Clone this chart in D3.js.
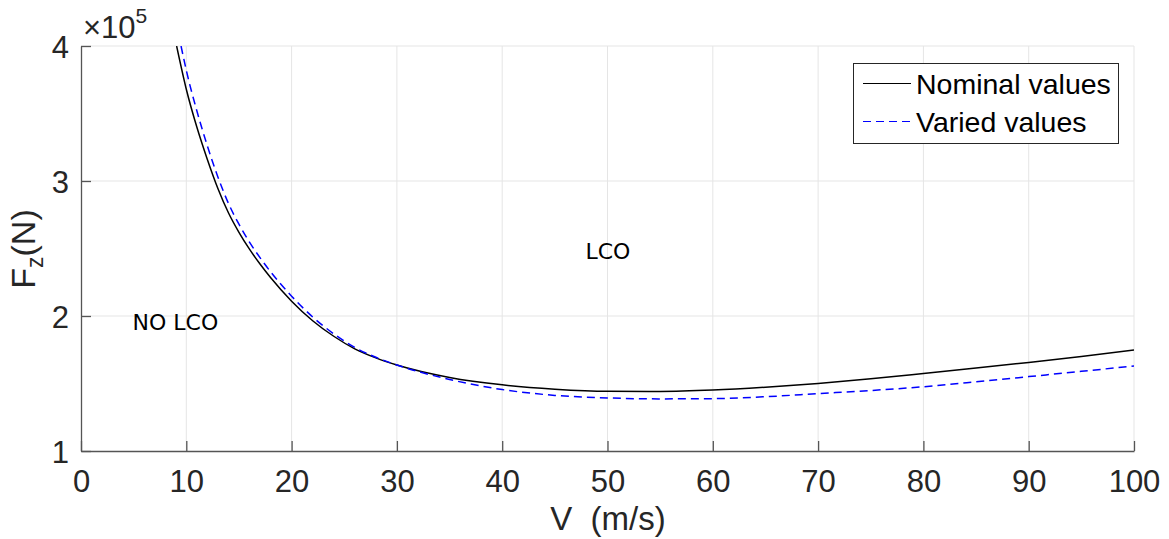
<!DOCTYPE html>
<html><head><meta charset="utf-8">
<script src="https://cdn.jsdelivr.net/npm/d3@7"></script>
<style>
body{margin:0;background:#fff;}
svg text{font-family:"Liberation Sans",Arial,sans-serif;}
</style></head>
<body><svg id="c" width="1169" height="539"></svg>
<script>
// Data (F in units of 1e5 N)
const xTicks = [0,10,20,30,40,50,60,70,80,90,100];
const yTicks = [1,2,3,4];
const nominalV = [9.08,10,11,12,13,14,15,16,17,18,20,22,24,26,28,30,35,40,45,50,55,60,65,70,75,80,85,90,95,100];
const nominalF = [4.0,3.68,3.40,3.16,2.945,2.765,2.62,2.495,2.385,2.285,2.11,1.965,1.85,1.757,1.69,1.637,1.545,1.49,1.458,1.442,1.441,1.451,1.472,1.50,1.535,1.574,1.614,1.656,1.70,1.748];
const variedV = [9.5,10,11,12,13,14,15,16,17,18,20,22,24,26,28,30,35,40,45,50,55,60,65,70,75,80,85,90,95,100];
const variedF = [4.0,3.82,3.52,3.26,3.03,2.835,2.68,2.547,2.432,2.328,2.147,1.993,1.868,1.767,1.694,1.637,1.53,1.455,1.412,1.393,1.386,1.388,1.402,1.425,1.448,1.476,1.512,1.551,1.59,1.63];
const seriesNames = ["Nominal values","Varied values"];
const annotations = [{text:"NO LCO",v:4.9,f:1.9},{text:"LCO",v:47.9,f:2.42}];

const svg = d3.select("#c");
const L=81,R=1134,T=46,B=451;
const x = d3.scaleLinear().domain([0,100]).range([L,R]);
const y = d3.scaleLinear().domain([1,4]).range([B,T]);

// grid
const g = svg.append("g");
g.selectAll(".gx").data(xTicks.slice(1)).enter().append("line")
 .attr("x1",d=>x(d)).attr("x2",d=>x(d)).attr("y1",T).attr("y2",B)
 .attr("stroke","#e5e5e5").attr("stroke-width",1);
g.selectAll(".gy").data(yTicks.slice(1)).enter().append("line")
 .attr("y1",d=>y(d)).attr("y2",d=>y(d)).attr("x1",L).attr("x2",R)
 .attr("stroke","#e5e5e5").attr("stroke-width",1);

// axes
const xAxis = d3.axisBottom(x).tickValues(xTicks).tickFormat(d3.format("d")).tickSizeInner(-10).tickSizeOuter(0).tickPadding(19);
const yAxis = d3.axisLeft(y).tickValues(yTicks).tickFormat(d3.format("d")).tickSizeInner(-10).tickSizeOuter(0).tickPadding(12);
const ax = svg.append("g").attr("transform",`translate(0,${B})`).call(xAxis);
const ay = svg.append("g").attr("transform",`translate(${L},0)`).call(yAxis);
[ax,ay].forEach(a=>{
  a.select(".domain").attr("stroke","#555").attr("stroke-width",1.3);
  a.selectAll(".tick line").attr("stroke","#555").attr("stroke-width",1.3);
  a.selectAll(".tick text").attr("fill","#262626").style("font-size","31px").style("font-family","Liberation Sans, Arial, sans-serif");
});
ax.selectAll(".tick text").attr("dy","0.71em");
ay.selectAll(".tick text").attr("dy","0.38em");

// exponent
const ex = svg.append("text").attr("x",83).attr("y",38).attr("fill","#262626").style("font-size","31px");
ex.append("tspan").text("×10");
ex.append("tspan").attr("dy",-15).style("font-size","21px").text("5");

// axis labels
svg.append("text").attr("x",608).attr("y",530).attr("text-anchor","middle")
  .attr("fill","#262626").style("font-size","33px").attr("xml:space","preserve").text("V  (m/s)");
const yl = svg.append("text").attr("transform","translate(35,249) rotate(-90)").attr("text-anchor","middle")
  .attr("fill","#262626").style("font-size","34px");
yl.append("tspan").text("F");
yl.append("tspan").attr("dy",8).style("font-size","23px").text("z");
yl.append("tspan").attr("dy",-8).text("(N)");

// curves
const clipId="clip";
svg.append("clipPath").attr("id",clipId).append("rect").attr("x",L).attr("y",T).attr("width",R-L).attr("height",B-T);
const line = d3.line().x(d=>x(d[0])).y(d=>y(d[1])).curve(d3.curveMonotoneX);
svg.append("path").datum(nominalV.map((v,i)=>[v,nominalF[i]]))
  .attr("d",line).attr("fill","none").attr("stroke","#000").attr("stroke-width",1.5).attr("clip-path",`url(#${clipId})`);
svg.append("path").datum(variedV.map((v,i)=>[v,variedF[i]]))
  .attr("d",line).attr("fill","none").attr("stroke","#0000ff").attr("stroke-width",1.5)
  .attr("stroke-dasharray","8,5").attr("clip-path",`url(#${clipId})`);

// annotations
svg.selectAll(".ann").data(annotations).enter().append("text")
  .attr("x",d=>x(d.v)).attr("y",d=>y(d.f))
  .style("font-family","DejaVu Sans, sans-serif").style("font-size","22px").attr("fill","#000")
  .text(d=>d.text);

// legend
const lg = svg.append("g");
lg.append("rect").attr("x",853.5).attr("y",63.5).attr("width",265).attr("height",80)
  .attr("fill","#fff").attr("stroke","#262626").attr("stroke-width",1);
const ly=[83.5,121.5];
lg.append("line").attr("x1",863).attr("x2",911).attr("y1",ly[0]).attr("y2",ly[0]).attr("stroke","#000").attr("stroke-width",1.2);
lg.append("line").attr("x1",863).attr("x2",911).attr("y1",ly[1]).attr("y2",ly[1]).attr("stroke","#0000ff").attr("stroke-width",1.2).attr("stroke-dasharray","8,5");
lg.selectAll(".lt").data(seriesNames).enter().append("text")
  .attr("x",916).attr("y",(d,i)=>ly[i]+10).attr("fill","#000").style("font-size","28.5px").text(d=>d);
</script></body></html>
